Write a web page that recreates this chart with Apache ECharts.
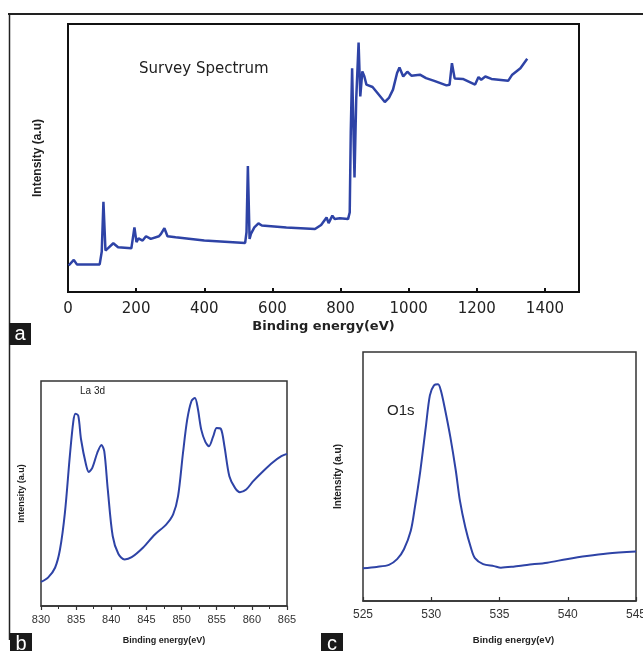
<!DOCTYPE html>
<html>
<head>
<meta charset="utf-8">
<title>XPS spectra</title>
<script src="https://cdn.jsdelivr.net/npm/echarts@6/dist/echarts.min.js"></script>
<style>
  html, body { margin: 0; padding: 0; background: #fff; }
  #main { width: 643px; height: 651px; }
</style>
</head>
<body>
<div id="main"></div>
<script>
// (a) survey spectrum
const surveyEnergy = [2, 17, 26, 93, 99, 104, 110, 117, 133, 147, 186, 195, 201, 207, 219, 229, 243, 267, 273, 283, 292, 316, 400, 520, 524, 528, 533, 537, 547, 559, 569, 641, 725, 743, 759, 765, 776, 783, 798, 822, 827, 830, 834, 837, 841, 846, 853, 858, 860, 864, 870, 876, 894, 930, 942, 954, 966, 973, 984, 996, 1008, 1033, 1051, 1075, 1111, 1120, 1127, 1135, 1159, 1195, 1205, 1213, 1225, 1243, 1292, 1304, 1328, 1348];
const surveyIntensity = [9.9, 12.0, 10.3, 10.3, 15.0, 33.7, 15.5, 16.3, 18.2, 16.7, 16.3, 24.1, 18.6, 20.0, 19.2, 20.8, 19.8, 20.8, 21.7, 23.8, 20.8, 20.4, 19.2, 18.3, 22.3, 47.0, 19.8, 21.7, 24.1, 25.6, 24.8, 24.1, 23.5, 25.0, 27.8, 25.7, 28.5, 27.2, 27.5, 27.2, 29.7, 59.4, 83.5, 65.6, 42.7, 71.8, 93.1, 73.0, 72.3, 82.3, 80.4, 77.4, 76.5, 70.9, 72.4, 75.5, 81.7, 83.8, 80.4, 82.2, 80.7, 81.1, 79.8, 78.8, 77.1, 77.3, 85.4, 79.7, 79.5, 77.4, 80.2, 79.2, 80.4, 79.5, 78.8, 81.1, 83.5, 87.0];

// (b) La 3d
const laEnergy = [830, 831, 832, 832.7, 833.4, 834.1, 834.6, 834.9, 835.3, 835.7, 836.4, 836.8, 837.3, 838.0, 838.6, 839.0, 839.5, 840.2, 841.0, 841.9, 842.9, 844.5, 846.2, 847.8, 848.8, 849.5, 850.2, 850.8, 851.4, 851.9, 852.3, 852.8, 853.4, 853.9, 854.5, 855.0, 855.6, 856.1, 856.8, 857.6, 858.3, 859.2, 860.2, 861.6, 863.0, 864.2, 865];
const laIntensity = [10.7, 12.6, 17.0, 25.1, 41.4, 66.6, 82.1, 85.5, 84.6, 74.0, 62.9, 59.6, 61.4, 68.0, 71.6, 68.8, 51.8, 31.1, 23.2, 20.7, 21.7, 25.9, 31.8, 36.2, 40.7, 48.8, 68.0, 82.8, 91.0, 92.5, 88.0, 78.4, 72.8, 71.0, 75.4, 79.1, 78.7, 71.0, 57.7, 52.5, 50.6, 51.8, 55.5, 59.9, 63.9, 66.6, 67.6];

// (c) O1s
const oEnergy = [525, 526.0, 526.9, 527.5, 528.0, 528.5, 528.8, 529.2, 529.6, 529.9, 530.2, 530.5, 530.7, 531.0, 531.4, 531.8, 532.1, 532.5, 532.9, 533.2, 533.8, 534.6, 535.1, 536.0, 537.0, 538.5, 539.9, 541.4, 542.9, 545];
const oIntensity = [13.2, 13.7, 14.5, 16.8, 20.8, 28.2, 37.6, 52.3, 69.8, 82.6, 86.6, 87.0, 84.6, 77.2, 65.8, 52.3, 40.3, 29.5, 21.5, 17.2, 14.8, 14.0, 13.4, 13.8, 14.5, 15.4, 16.8, 18.1, 19.1, 19.9];

const lineColor = '#2e43a6';
const pairs = (xs, ys) => xs.map((x, i) => [x, ys[i]]);
const plain = (v) => String(v);

const chart = echarts.init(document.getElementById('main'));

const hiddenY = (idx) => ({
    type: 'value', gridIndex: idx, min: 0, max: 100,
    axisLine: { show: false }, axisTick: { show: false },
    axisLabel: { show: false }, splitLine: { show: false },
    name: 'Intensity (a.u)', nameLocation: 'middle'
});

const option = {
    animation: false,
    grid: [
        { left: 68, top: 24, width: 511, height: 268, show: true, borderColor: '#111', borderWidth: 2, outerBoundsMode: 'none' },
        { left: 41, top: 381, width: 246, height: 225, show: true, borderColor: '#333', borderWidth: 1.5, outerBoundsMode: 'none' },
        { left: 363, top: 352, width: 273, height: 249, show: true, borderColor: '#333', borderWidth: 1.5, outerBoundsMode: 'none' }
    ],
    xAxis: [
        {
            type: 'value', gridIndex: 0, min: 0, max: 1500, interval: 200,
            axisLine: { lineStyle: { color: '#111', width: 2 } },
            axisTick: { inside: true, length: 4, lineStyle: { width: 2 } },
            axisLabel: { showMaxLabel: false, formatter: plain, margin: 10, fontFamily: 'DejaVu Sans', fontSize: 15, color: '#222' },
            splitLine: { show: false },
            name: 'Binding energy(eV)', nameLocation: 'middle', nameGap: 28,
            nameTextStyle: { fontFamily: 'DejaVu Sans', fontWeight: 'bold', fontSize: 13, color: '#222' }
        },
        {
            type: 'value', gridIndex: 1, min: 830, max: 865, interval: 5,
            axisLine: { lineStyle: { color: '#333', width: 1.5 } },
            axisTick: { inside: false, length: 4, lineStyle: { width: 1.2 } },
            minorTick: { show: true, splitNumber: 2, length: 3, lineStyle: { color: '#333', width: 1 } },
            axisLabel: { formatter: plain, margin: 8, fontFamily: 'Liberation Sans', fontSize: 11, color: '#333' },
            splitLine: { show: false },
            name: 'Binding energy(eV)', nameLocation: 'middle', nameGap: 30,
            nameTextStyle: { fontFamily: 'Liberation Sans', fontWeight: 'bold', fontSize: 9, color: '#222' }
        },
        {
            type: 'value', gridIndex: 2, min: 525, max: 545, interval: 5,
            axisLine: { lineStyle: { color: '#333', width: 1.5 } },
            axisTick: { inside: true, length: 4, lineStyle: { width: 1.2 } },
            axisLabel: { formatter: plain, margin: 8, fontFamily: 'Liberation Sans', fontSize: 12, color: '#333' },
            splitLine: { show: false },
            name: 'Bindig energy(eV)', nameLocation: 'middle', nameGap: 34,
            nameTextStyle: { fontFamily: 'Liberation Sans', fontWeight: 'bold', fontSize: 9.5, color: '#222', padding: [0, 0, 0, 28] }
        }
    ],
    yAxis: [
        Object.assign(hiddenY(0), { nameGap: 24, nameTextStyle: { fontFamily: 'Liberation Sans', fontWeight: 'bold', fontSize: 12, color: '#222' } }),
        Object.assign(hiddenY(1), { nameGap: 15, nameTextStyle: { fontFamily: 'Liberation Sans', fontWeight: 'bold', fontSize: 9, color: '#222' } }),
        Object.assign(hiddenY(2), { nameGap: 20, nameTextStyle: { fontFamily: 'Liberation Sans', fontWeight: 'bold', fontSize: 10, color: '#222' } })
    ],
    series: [
        { type: 'line', xAxisIndex: 0, yAxisIndex: 0, data: pairs(surveyEnergy, surveyIntensity), showSymbol: false, lineStyle: { color: lineColor, width: 2.5 } },
        { type: 'line', xAxisIndex: 1, yAxisIndex: 1, data: pairs(laEnergy, laIntensity), showSymbol: false, smooth: 0.3, lineStyle: { color: lineColor, width: 2 } },
        { type: 'line', xAxisIndex: 2, yAxisIndex: 2, data: pairs(oEnergy, oIntensity), showSymbol: false, smooth: 0.3, lineStyle: { color: lineColor, width: 2 } }
    ],
    graphic: [
        // outer frame of the figure
        { type: 'line', shape: { x1: 8, y1: 14, x2: 643, y2: 14 }, style: { stroke: '#222', lineWidth: 2 } },
        { type: 'line', shape: { x1: 9.5, y1: 14, x2: 9.5, y2: 640 }, style: { stroke: '#222', lineWidth: 1.5 } },
        // in-plot labels
        { type: 'text', left: 139, top: 62, style: { text: 'Survey Spectrum', font: '15px "DejaVu Sans"', fill: '#222' } },
        { type: 'text', left: 80, top: 386, style: { text: 'La 3d', font: '10px "Liberation Sans"', fill: '#222' } },
        { type: 'text', left: 387, top: 403, style: { text: 'O1s', font: '15px "Liberation Sans"', fill: '#222' } },
        // panel letters
        { type: 'group', left: 9, top: 323, children: [
            { type: 'rect', shape: { x: 0, y: 0, width: 22, height: 22 }, style: { fill: '#1a1a1a' } },
            { type: 'text', x: 11, y: 11, style: { text: 'a', font: '20px "Liberation Sans"', fill: '#fff', align: 'center', verticalAlign: 'middle' } }
        ] },
        { type: 'group', left: 10, top: 633, children: [
            { type: 'rect', shape: { x: 0, y: 0, width: 22, height: 20 }, style: { fill: '#1a1a1a' } },
            { type: 'text', x: 11, y: 11, style: { text: 'b', font: '20px "Liberation Sans"', fill: '#fff', align: 'center', verticalAlign: 'middle' } }
        ] },
        { type: 'group', left: 321, top: 633, children: [
            { type: 'rect', shape: { x: 0, y: 0, width: 22, height: 20 }, style: { fill: '#1a1a1a' } },
            { type: 'text', x: 11, y: 11, style: { text: 'c', font: '20px "Liberation Sans"', fill: '#fff', align: 'center', verticalAlign: 'middle' } }
        ] }
    ]
};

chart.setOption(option);
</script>
</body>
</html>
